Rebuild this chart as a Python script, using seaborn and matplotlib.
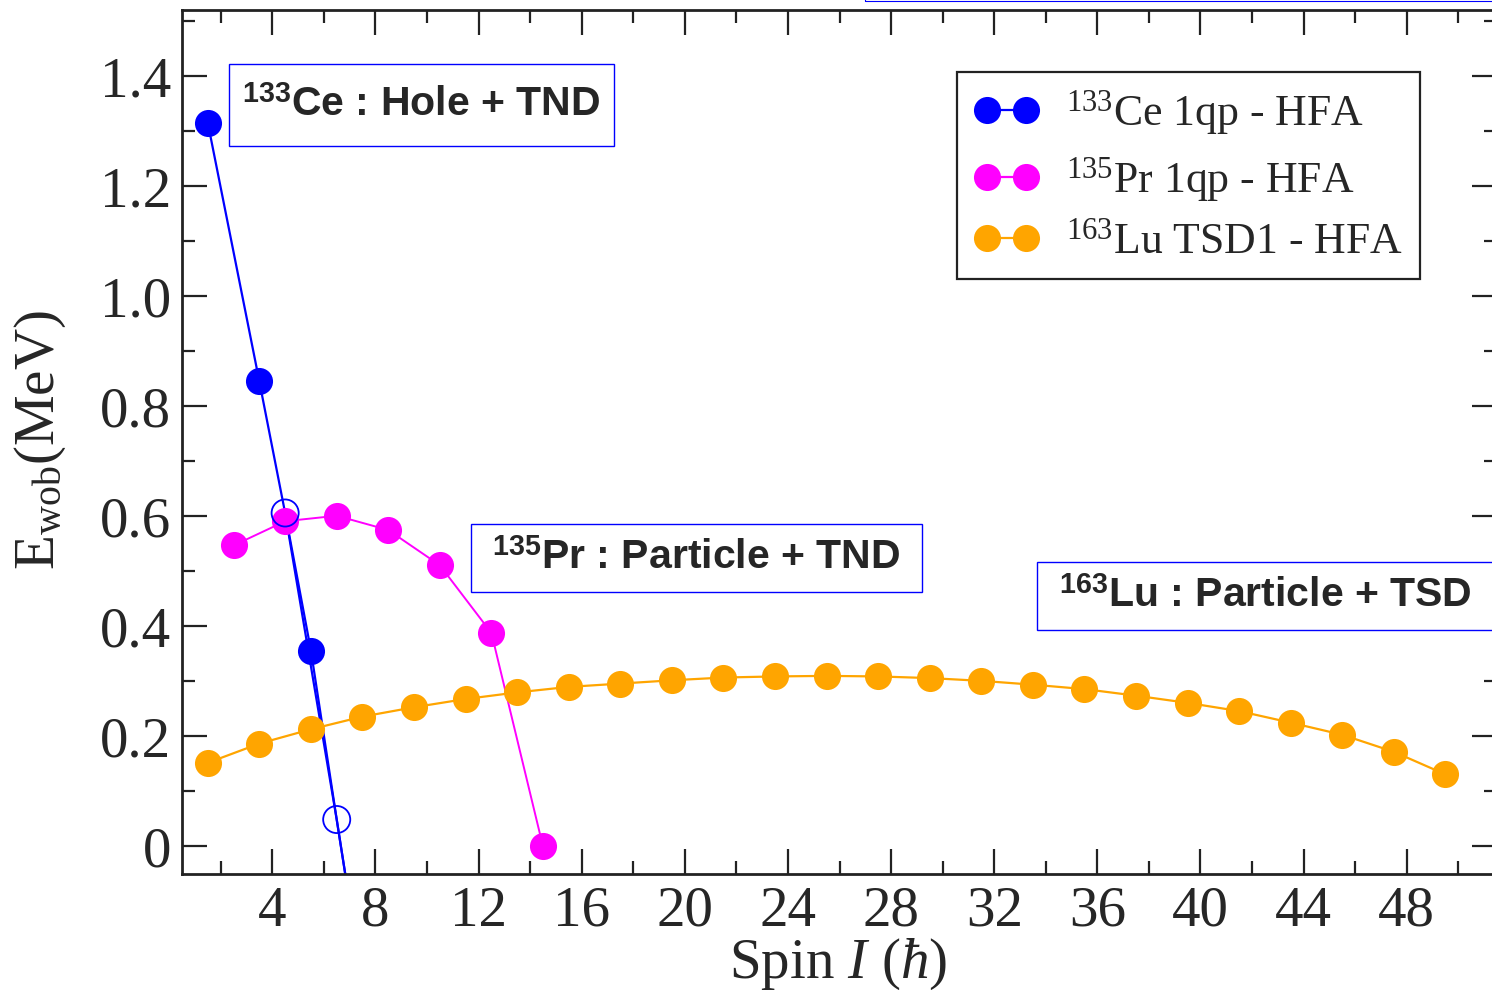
import numpy as np
import pandas as pd
import matplotlib
matplotlib.use("Agg")
import matplotlib.pyplot as plt
from matplotlib.lines import Line2D
from matplotlib.patches import Rectangle
from matplotlib.ticker import MultipleLocator, FuncFormatter
import seaborn as sns

# ---- data: wobbling energy E_wob (MeV) vs spin I (hbar) ----
# 133Ce 1qp - HFA, filled points
ce_spin = [1.5, 3.5, 5.5]
ce_ewob = [1.315, 0.845, 0.356]
# 133Ce 1qp - HFA, open points (last one falls below the axis)
ce_open_spin = [4.5, 6.5, 7.5]
ce_open_ewob = [0.606, 0.049, -0.25]

# 135Pr 1qp - HFA
pr_spin = [2.5, 4.5, 6.5, 8.5, 10.5, 12.5, 14.5]
pr_ewob = [0.547, 0.591, 0.601, 0.575, 0.511, 0.388, 0.0]

# 163Lu TSD1 - HFA
lu_spin = [1.5, 3.5, 5.5, 7.5, 9.5, 11.5, 13.5, 15.5, 17.5, 19.5, 21.5, 23.5,
           25.5, 27.5, 29.5, 31.5, 33.5, 35.5, 37.5, 39.5, 41.5, 43.5, 45.5,
           47.5, 49.5]
lu_ewob = [0.152, 0.187, 0.213, 0.236, 0.253, 0.268, 0.280, 0.290, 0.296,
           0.302, 0.307, 0.309, 0.310, 0.309, 0.306, 0.301, 0.294, 0.286,
           0.274, 0.261, 0.246, 0.225, 0.203, 0.172, 0.131]

legend_labels = [r"$^{133}$Ce 1qp - HFA",
                 r"$^{135}$Pr 1qp - HFA",
                 r"$^{163}$Lu TSD1 - HFA"]
box_labels = [r"$^{\mathbf{133}}$Ce : Hole + TND",
              r"$^{\mathbf{135}}$Pr : Particle + TND",
              r"$^{\mathbf{163}}$Lu : Particle + TSD"]

BLUE, MAGENTA, ORANGE = "#0000ff", "#ff00ff", "#ffa500"

sns.set_theme(style="white")
plt.rcParams.update({
    "font.family": ["Liberation Serif", "DejaVu Serif"],
    "mathtext.fontset": "custom",
    "mathtext.rm": "Liberation Serif",
    "mathtext.it": "Liberation Serif:italic",
    "mathtext.bf": "Liberation Sans:bold",
    "axes.edgecolor": "#222222",
    "axes.linewidth": 2.0,
})

fig = plt.figure(figsize=(14.92, 9.90), dpi=100)
ax = fig.add_axes([182 / 1492, 1 - 874 / 990, (1497 - 182) / 1492, (874 - 10) / 990])

ms = 19.5
s_area = ms ** 2

# 133Ce lines: through every point in spin order, plus the open-point branch
ce_all = pd.DataFrame({"spin": ce_spin + ce_open_spin,
                       "ewob": ce_ewob + ce_open_ewob}).sort_values("spin")
sns.lineplot(data=ce_all, x="spin", y="ewob", color=BLUE, lw=1.6, ax=ax,
             sort=True, legend=False)
sns.lineplot(x=ce_open_spin, y=ce_open_ewob, color=BLUE, lw=1.6, ax=ax,
             legend=False)

# 135Pr and 163Lu lines
sns.lineplot(x=pr_spin, y=pr_ewob, color=MAGENTA, lw=1.4, ax=ax, legend=False)
sns.lineplot(x=lu_spin, y=lu_ewob, color=ORANGE, lw=1.6, ax=ax, legend=False)

# markers
sns.scatterplot(x=lu_spin, y=lu_ewob, color=ORANGE, s=s_area, linewidth=0,
                ax=ax, zorder=4, legend=False)
sns.scatterplot(x=pr_spin, y=pr_ewob, color=MAGENTA, s=s_area, linewidth=0,
                ax=ax, zorder=5, legend=False)
sns.scatterplot(x=ce_spin, y=ce_ewob, color=BLUE, s=s_area, linewidth=0,
                ax=ax, zorder=6, legend=False)
sns.scatterplot(x=ce_open_spin, y=ce_open_ewob, facecolor="none",
                edgecolor=BLUE, s=s_area, linewidth=1.3, ax=ax, zorder=6,
                legend=False)

# axes limits and ticks
ax.set_xlim(0.5, 51.5)
ax.set_ylim(-0.05, 1.52)
ax.xaxis.set_major_locator(MultipleLocator(4))
ax.xaxis.set_minor_locator(MultipleLocator(2))
ax.yaxis.set_major_locator(MultipleLocator(0.2))
ax.yaxis.set_minor_locator(MultipleLocator(0.1))
ax.yaxis.set_major_formatter(FuncFormatter(lambda v, p: "0" if abs(v) < 1e-9 else f"{v:.1f}"))
ax.xaxis.set_major_formatter(FuncFormatter(lambda v, p: f"{v:.0f}"))
ax.tick_params(which="both", direction="in", top=True, right=True,
               bottom=True, left=True, color="#222222", width=1.6)
ax.tick_params(which="major", length=18, labelsize=41, pad=8.5)
ax.tick_params(which="minor", length=9.5)
ax.tick_params(axis="y", which="major", pad=8)
for lbl in ax.get_xticklabels() + ax.get_yticklabels():
    lbl.set_fontfamily("Liberation Serif")

ax.set_xlabel(r"Spin $\mathit{I}$ ($\mathit{ħ}$)", fontsize=41,
              fontfamily="Liberation Serif", labelpad=0)
ax.set_ylabel(r"E$_{\mathrm{wob}}$(MeV)", fontsize=41,
              fontfamily="Liberation Serif", labelpad=4)
ax.xaxis.set_label_coords((838 - 182) / (1497 - 182), -(964 - 874) / 864)
ax.yaxis.set_label_coords(-(182 - 40) / 1315, (874 - 440) / 864)
ax.xaxis.label.set_va("center")
ax.yaxis.label.set_va("center")

# legend
handles = [Line2D([], [], color=c, lw=1.6, marker="o", markersize=ms,
                  markeredgewidth=0)
           for c in (BLUE, MAGENTA, ORANGE)]
leg = ax.legend(handles, legend_labels, loc="upper left",
                bbox_to_anchor=(957 / 1492, 1 - 72 / 990),
                bbox_transform=fig.transFigure, numpoints=2,
                prop={"family": "Liberation Serif", "size": 31.5},
                frameon=True, fancybox=False, edgecolor="#222222",
                framealpha=1, borderpad=0.38, labelspacing=0.42,
                handlelength=1.5, handletextpad=0.62, borderaxespad=0)
leg.get_frame().set_linewidth(1.6)

# labelled boxes (figure pixel extents)
boxes = [(229, 64, 614, 146), (471, 524, 922, 592), (1037, 562, 1494, 630)]
for (x0, y0, x1, y1), text in zip(boxes, box_labels):
    fx0, fx1 = x0 / 1492, x1 / 1492
    fy0, fy1 = 1 - y1 / 990, 1 - y0 / 990
    fig.patches.append(Rectangle((fx0, fy0), fx1 - fx0, fy1 - fy0,
                                 transform=fig.transFigure, facecolor="white",
                                 edgecolor=BLUE, lw=1.0, zorder=7))
    fig.text((fx0 + fx1) / 2, (fy0 + fy1) / 2, text, ha="center",
             va="center", fontsize=29.5, fontweight="bold",
             fontfamily="Liberation Sans", zorder=8)

# edge of a neighbouring box along the top border
fig.patches.append(Rectangle((865 / 1492, 1 - 0.6 / 990), 0.5, 0.1,
                             transform=fig.transFigure, facecolor="none",
                             edgecolor=BLUE, lw=0.8, zorder=7))

fig.savefig("out.png", dpi=100)
